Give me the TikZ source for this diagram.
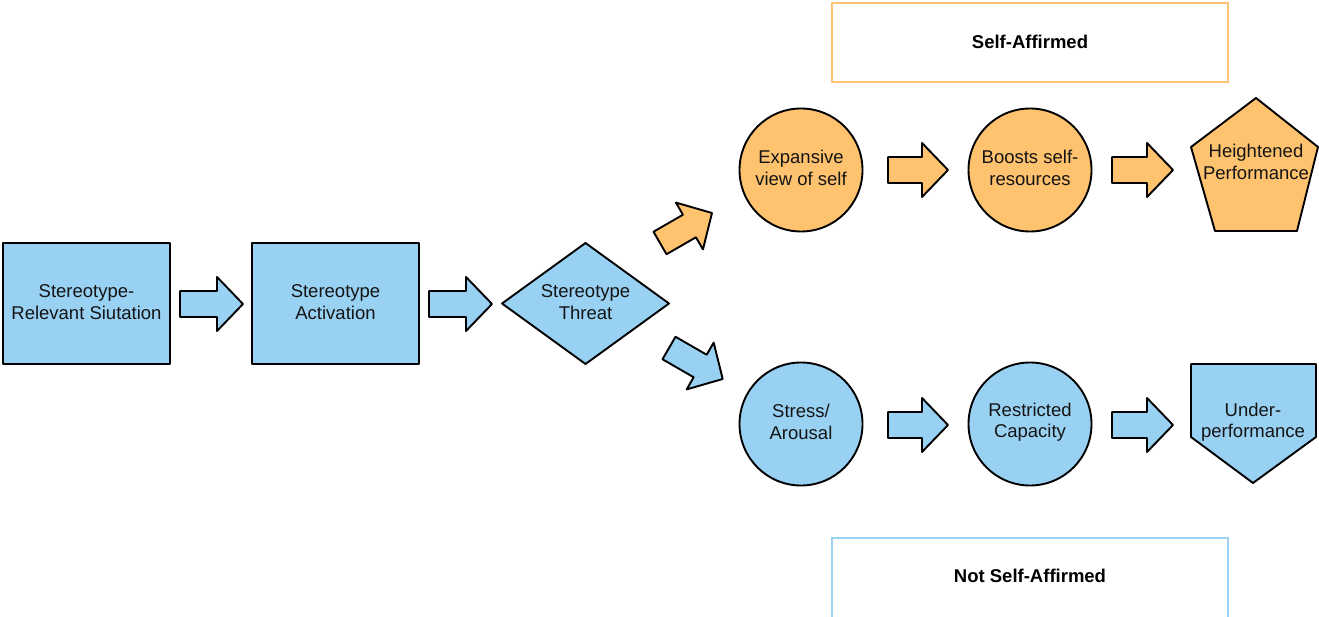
\documentclass[tikz,border=0pt]{standalone}
\usepackage{fontspec}
\setmainfont{Liberation Sans}
\begin{document}
\definecolor{skyfill}{HTML}{99D1F3}
\definecolor{peachfill}{HTML}{FFC26E}
\definecolor{peachline}{HTML}{FFC374}
\definecolor{skyline}{HTML}{9CD3F2}
\begin{tikzpicture}[x=1pt,y=-1pt,
  shape line/.style={draw=black,line width=1.9pt,line join=round},
  label text/.style={font=\fontsize{18.5}{21.5}\selectfont,align=center,text=black!92},
  banner text/.style={font=\fontsize{18.5}{21}\selectfont\bfseries,text=black},
  pics/fatarrow/.style args={#1/#2}{code={
    \draw[shape line,fill=#1] (0,-13) -- (#2-26,-13) -- (#2-26,-27) -- (#2,0)
      -- (#2-26,27) -- (#2-26,13) -- (0,13) -- cycle;}}]
\useasboundingbox (0,0) rectangle (1319,617);

% left-hand chain
\draw[shape line,fill=skyfill] (3,243) rectangle (170,364);
\node[label text] (situation) at (86.5,302) {Stereotype-\\Relevant Siutation};
\pic at (180,304) {fatarrow={skyfill/63}};
\draw[shape line,fill=skyfill] (252,243) rectangle (419,364);
\node[label text] (activation) at (335.5,302) {Stereotype\\Activation};
\pic at (429,304) {fatarrow={skyfill/63}};
\draw[shape line,fill=skyfill] (502,303.5) -- (585.5,243) -- (669,303.5) -- (585.5,364) -- cycle;
\node[label text] (threat) at (585.5,302) {Stereotype\\Threat};

% branch arrows
\pic[rotate=30] at (660,243) {fatarrow={peachfill/60}};
\pic[rotate=-30] at (669,348) {fatarrow={skyfill/62}};

% self-affirmed branch
\node[shape line,circle,fill=peachfill,minimum size=123pt,inner sep=0pt] (expansive) at (801,170) {};
\node[label text] at (801,168) {Expansive\\view of self};
\pic at (888,170) {fatarrow={peachfill/60}};
\node[shape line,circle,fill=peachfill,minimum size=123pt,inner sep=0pt] (boosts) at (1030,170) {};
\node[label text] at (1030,168) {Boosts self-\\resources};
\pic at (1112,170) {fatarrow={peachfill/61}};
\draw[shape line,fill=peachfill] (1256,98) -- (1318,147) -- (1297,231) -- (1215,231) -- (1191,147) -- cycle;
\node[label text] (heightened) at (1256,162) {Heightened\\Performance};

% not-self-affirmed branch
\node[shape line,circle,fill=skyfill,minimum size=123pt,inner sep=0pt] (stress) at (801,424) {};
\node[label text] at (801,422) {Stress/\\Arousal};
\pic at (888,425) {fatarrow={skyfill/60}};
\node[shape line,circle,fill=skyfill,minimum size=123pt,inner sep=0pt] (restricted) at (1030,424) {};
\node[label text] at (1030,422) {Restricted\\Capacity};
\pic at (1112,425) {fatarrow={skyfill/61}};
\draw[shape line,fill=skyfill] (1191,364) -- (1316,364) -- (1316,437) -- (1253,483) -- (1191,437) -- cycle;
\node[label text] (under) at (1253,422) {Under-\\performance};

% condition banners
\draw[peachline,line width=2pt] (832,3) rectangle (1228,82);
\node[banner text] (affirmed) at (1030,42) {Self-Affirmed};
\draw[skyline,line width=2pt] (832,538) rectangle (1228,625);
\node[banner text] (notaffirmed) at (1030,576) {Not Self-Affirmed};
\end{tikzpicture}
\end{document}
